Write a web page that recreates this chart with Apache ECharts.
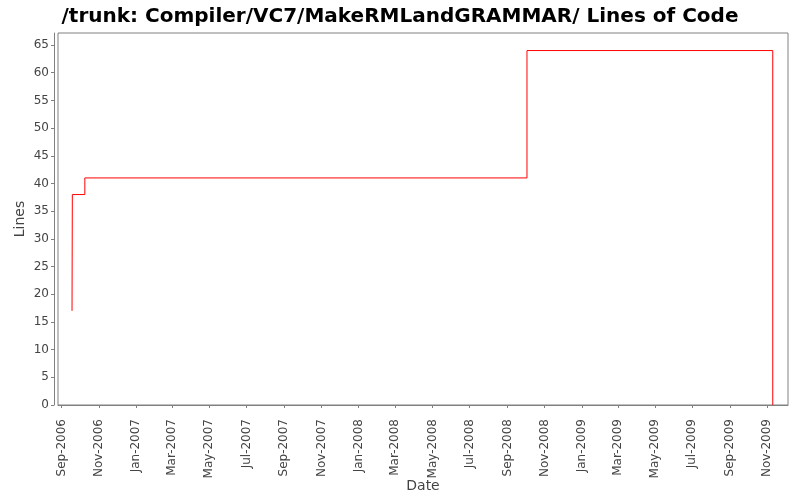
<!DOCTYPE html>
<html>
<head>
<meta charset="utf-8">
<script src="https://cdn.jsdelivr.net/npm/echarts@6/dist/echarts.min.js"></script>
<style>html,body{margin:0;padding:0;background:#fff}#c{width:800px;height:500px}</style>
</head>
<body>
<div id="c"></div>
<script>
// Data
var dates = ['2006-09-18 00:00', '2006-09-18 12:00', '2006-10-09', '2008-10-03', '2009-11-10'];
var lines = [17, 38, 41, 64, 0];
var tickMonths = ['2006-09-01','2006-11-01','2007-01-01','2007-03-01','2007-05-01','2007-07-01','2007-09-01','2007-11-01','2008-01-01','2008-03-01','2008-05-01','2008-07-01','2008-09-01','2008-11-01','2009-01-01','2009-03-01','2009-05-01','2009-07-01','2009-09-01','2009-11-01'];
var monthNames = ['Jan','Feb','Mar','Apr','May','Jun','Jul','Aug','Sep','Oct','Nov','Dec'];

function ts(s){ var p = s.split(/[- :]/); return Date.UTC(+p[0], +p[1]-1, +p[2], +(p[3]||0), +(p[4]||0)); }
var tickValues = tickMonths.map(ts);
var seriesData = dates.map(function(d, i){ return [ts(d), lines[i]]; });

var chart = echarts.init(document.getElementById('c'), null, {renderer: 'canvas'});
var font = 'DejaVu Sans';
chart.setOption({
  animation: false,
  title: {
    text: '/trunk: Compiler/VC7/MakeRMLandGRAMMAR/ Lines of Code',
    left: 'center', top: 2,
    textStyle: {fontFamily: font, fontSize: 20, fontWeight: 'bold', color: '#000'}
  },
  grid: {left: 58, right: 12, top: 33, bottom: 95, outerBoundsMode: 'none', containLabel: false, show: true, borderColor: '#808080', borderWidth: 1, backgroundColor: '#fff'},
  xAxis: {
    type: 'value',
    min: ts('2006-08-26'),
    max: ts('2009-12-05'),
    offset: 4,
    name: 'Date', nameLocation: 'middle', nameGap: 70, nameMoveOverlap: false,
    nameTextStyle: {fontFamily: font, fontSize: 14, color: '#444'},
    axisLine: {show: true, lineStyle: {color: '#808080'}},
    axisTick: {show: true, length: 3, customValues: tickValues, lineStyle: {color: '#808080'}},
    axisLabel: {
      customValues: tickValues, rotate: 90, fontFamily: font, fontSize: 12, color: '#444', margin: 10,
      formatter: function(v){ var d = new Date(v); return monthNames[d.getUTCMonth()] + '-' + d.getUTCFullYear(); }
    },
    splitLine: {show: false}
  },
  yAxis: {
    type: 'value',
    min: 0, max: 67.17, interval: 5,
    offset: 4,
    name: 'Lines', nameLocation: 'middle', nameGap: 27, nameMoveOverlap: false,
    nameTextStyle: {fontFamily: font, fontSize: 14, color: '#444'},
    axisLine: {show: true, lineStyle: {color: '#808080'}},
    axisTick: {show: true, length: 3, lineStyle: {color: '#808080'}},
    axisLabel: {fontFamily: font, fontSize: 12, color: '#444', margin: 5, showMaxLabel: false},
    splitLine: {show: false}
  },
  series: [{
    type: 'line',
    step: 'end',
    data: seriesData,
    showSymbol: false,
    lineStyle: {color: '#ff0000', width: 1},
    itemStyle: {color: '#ff0000'}
  }]
});
</script>
</body>
</html>
